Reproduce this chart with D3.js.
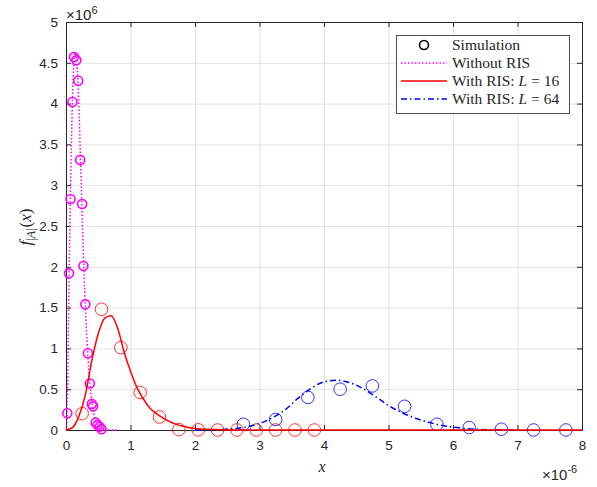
<!DOCTYPE html>
<html>
<head>
<meta charset="utf-8">
<script src="https://cdn.jsdelivr.net/npm/d3@7"></script>
<style>
  body { margin: 0; background: #fff; }
  text { fill: #262626; }
</style>
</head>
<body>
<svg id="chart"></svg>
<script>
// x values in units of 1e-6, y values in units of 1e6

// Simulation markers
const simNoRisX = [0.02, 0.047, 0.07, 0.10, 0.124, 0.16, 0.19, 0.22, 0.25, 0.27, 0.30, 0.34, 0.37, 0.40, 0.42, 0.46, 0.49, 0.52, 0.55];
const simNoRisY = [0.205, 1.92, 2.83, 4.02, 4.57, 4.53, 4.28, 3.31, 2.77, 2.01, 1.54, 0.94, 0.57, 0.32, 0.29, 0.09, 0.06, 0.04, 0.01];

const simL16X = [0.25, 0.55, 0.85, 1.15, 1.45, 1.75, 2.05, 2.35, 2.65, 2.95, 3.25, 3.55, 3.85];
const simL16Y = [0.20, 1.48, 1.01, 0.46, 0.16, 0.005, 0.002, 0, 0, 0, 0, 0, 0];

const simL64X = [2.75, 3.25, 3.75, 4.25, 4.75, 5.25, 5.75, 6.25, 6.75, 7.25, 7.75];
const simL64Y = [0.07, 0.13, 0.40, 0.50, 0.54, 0.29, 0.07, 0.03, 0.01, 0, 0];

// Analytical curves
const noRisX = [0, 0.01, 0.02, 0.035, 0.047, 0.06, 0.07, 0.085, 0.10, 0.115, 0.13, 0.145, 0.16, 0.175, 0.19, 0.205, 0.22, 0.235, 0.25, 0.27, 0.29, 0.31, 0.34, 0.37, 0.40, 0.43, 0.46, 0.50, 0.55, 0.60, 0.70, 0.80];
const noRisY = [0, 0.05, 0.3, 1.1, 1.9, 2.5, 2.95, 3.55, 4.05, 4.4, 4.58, 4.62, 4.55, 4.42, 4.2, 3.85, 3.45, 3.05, 2.65, 2.15, 1.7, 1.35, 0.9, 0.57, 0.35, 0.2, 0.11, 0.05, 0.015, 0.005, 0, 0];

const l16X = [0, 0.1, 0.2, 0.3, 0.4, 0.5, 0.6, 0.7, 0.8, 0.9, 1.0, 1.1, 1.2, 1.3, 1.4, 1.5, 1.6, 1.7, 1.8, 1.9, 2.0, 2.1, 2.3, 2.6, 3, 4, 5, 6, 7, 8];
const l16Y = [0, 0.03, 0.17, 0.43, 0.85, 1.18, 1.37, 1.40, 1.25, 0.96, 0.72, 0.52, 0.38, 0.27, 0.20, 0.15, 0.105, 0.072, 0.048, 0.03, 0.019, 0.012, 0.005, 0.001, 0, 0, 0, 0, 0, 0];

const l64X = [2.0, 2.2, 2.4, 2.6, 2.8, 3.0, 3.2, 3.4, 3.6, 3.8, 4.0, 4.2, 4.4, 4.6, 4.8, 5.0, 5.2, 5.4, 5.6, 5.8, 6.0, 6.2, 6.4, 6.6, 6.8, 7.0];
const l64Y = [0, 0.002, 0.006, 0.017, 0.04, 0.08, 0.15, 0.25, 0.39, 0.51, 0.59, 0.61, 0.58, 0.51, 0.41, 0.30, 0.215, 0.15, 0.10, 0.06, 0.035, 0.018, 0.008, 0.003, 0.001, 0];

const xTicks = [0, 1, 2, 3, 4, 5, 6, 7, 8];
const yTicks = [0, 0.5, 1, 1.5, 2, 2.5, 3, 3.5, 4, 4.5, 5];

const legendLabels = ['Simulation', 'Without RIS', 'With RIS: ', 'With RIS: '];

const width = 597, height = 487;
const plot = { left: 66, right: 582, top: 22, bottom: 430 };

const svg = d3.select('#chart')
    .attr('width', width)
    .attr('height', height)
    .style('font-family', 'Liberation Sans, Arial, Helvetica, sans-serif');

const x = d3.scaleLinear().domain([0, 8]).range([plot.left, plot.right]);
const y = d3.scaleLinear().domain([0, 5]).range([plot.bottom, plot.top]);

const axisColor = '#262626';

// Grid
const grid = svg.append('g').attr('class', 'grid');
grid.selectAll('line.gx')
    .data(xTicks)
    .join('line')
    .attr('class', 'gx')
    .attr('x1', d => x(d) + 0.5).attr('x2', d => x(d) + 0.5)
    .attr('y1', plot.top).attr('y2', plot.bottom)
    .attr('stroke', '#e3e3e3').attr('stroke-width', 1);
grid.selectAll('line.gy')
    .data(yTicks)
    .join('line')
    .attr('class', 'gy')
    .attr('x1', plot.left).attr('x2', plot.right)
    .attr('y1', d => y(d) + 0.5).attr('y2', d => y(d) + 0.5)
    .attr('stroke', '#e3e3e3').attr('stroke-width', 1);

// Axes (ticks inward on all sides)
const fmt = d => String(d);
const xAxisB = d3.axisBottom(x).tickValues(xTicks).tickFormat(fmt).tickSizeInner(-5).tickSizeOuter(0).tickPadding(10);
const xAxisT = d3.axisTop(x).tickValues(xTicks).tickFormat('').tickSizeInner(-5).tickSizeOuter(0);
const yAxisL = d3.axisLeft(y).tickValues(yTicks).tickFormat(fmt).tickSizeInner(-5).tickSizeOuter(0).tickPadding(8);
const yAxisR = d3.axisRight(y).tickValues(yTicks).tickFormat('').tickSizeInner(-5).tickSizeOuter(0);

function styleAxis(g) {
    g.selectAll('path').attr('stroke', axisColor).attr('stroke-width', 1);
    g.selectAll('line').attr('stroke', axisColor).attr('stroke-width', 1);
    g.selectAll('text').attr('fill', axisColor).style('font-size', '13.5px')
        .style('font-family', 'Liberation Sans, Arial, Helvetica, sans-serif');
}

svg.append('g').attr('transform', `translate(0,${plot.bottom})`).call(xAxisB).call(styleAxis);
svg.append('g').attr('transform', `translate(0,${plot.top})`).call(xAxisT).call(styleAxis);
svg.append('g').attr('transform', `translate(${plot.left},0)`).call(yAxisL).call(styleAxis);
svg.append('g').attr('transform', `translate(${plot.right},0)`).call(yAxisR).call(styleAxis);

// Markers
const pts = svg.append('g').attr('class', 'markers');
function drawMarkers(xs, ys, color, r, sw) {
    pts.append('g').selectAll('circle')
        .data(xs.map((d, i) => [d, ys[i]]))
        .join('circle')
        .attr('cx', d => x(d[0]))
        .attr('cy', d => y(d[1]))
        .attr('r', r)
        .attr('fill', 'none')
        .attr('stroke', color)
        .attr('stroke-width', sw);
}
drawMarkers(simNoRisX, simNoRisY, '#ff00ff', 4.5, 1.6);
drawMarkers(simL16X, simL16Y, '#ff0000', 6.3, 0.8);
drawMarkers(simL64X, simL64Y, '#0000ff', 6.3, 0.8);

// Curves
const line = d3.line()
    .x(d => x(d[0]))
    .y(d => y(d[1]))
    .curve(d3.curveMonotoneX);

const curves = svg.append('g').attr('class', 'curves');
curves.append('path')
    .datum(noRisX.map((d, i) => [d, noRisY[i]]))
    .attr('d', line)
    .attr('fill', 'none')
    .attr('stroke', '#ff00ff')
    .attr('stroke-width', 1.5)
    .attr('stroke-dasharray', '1.5,2');
curves.append('path')
    .datum(l64X.map((d, i) => [d, l64Y[i]]))
    .attr('d', line)
    .attr('fill', 'none')
    .attr('stroke', '#0000ff')
    .attr('stroke-width', 1.5)
    .attr('stroke-dasharray', '6,3,1.5,3');
curves.append('path')
    .datum(l16X.map((d, i) => [d, l16Y[i]]))
    .attr('d', line)
    .attr('fill', 'none')
    .attr('stroke', '#ff0000')
    .attr('stroke-width', 1.5);

// Exponent labels
const serif = 'Liberation Serif, Times New Roman, serif';
const topExp = svg.append('text')
    .attr('x', 66).attr('y', 20)
    .style('font-size', '15px');
topExp.append('tspan').text('\u00d710');
topExp.append('tspan').attr('dy', -6).style('font-size', '11px').text('6');

const botExp = svg.append('text')
    .attr('x', 542).attr('y', 480)
    .style('font-size', '15px');
botExp.append('tspan').text('\u00d710');
botExp.append('tspan').attr('dy', -7).style('font-size', '11px').text('-6');

// Axis labels
svg.append('text')
    .attr('x', (plot.left + plot.right) / 2 - 2)
    .attr('y', 472)
    .attr('text-anchor', 'middle')
    .style('font-family', serif)
    .style('font-style', 'italic')
    .style('font-size', '16px')
    .text('x');

const yLab = svg.append('text')
    .attr('transform', 'translate(31,227) rotate(-90)')
    .attr('text-anchor', 'middle')
    .style('font-family', serif)
    .style('font-size', '17px');
yLab.append('tspan').style('font-style', 'italic').text('f');
yLab.append('tspan').attr('dy', 4).style('font-size', '12px').text('|');
yLab.append('tspan').style('font-size', '12px').style('font-style', 'italic').text('A');
yLab.append('tspan').style('font-size', '12px').text('|');
yLab.append('tspan').attr('dy', -4).attr('dx', 1).text('(');
yLab.append('tspan').style('font-style', 'italic').text('x');
yLab.append('tspan').text(')');

// Legend
const legend = svg.append('g').attr('class', 'legend');
legend.append('rect')
    .attr('x', 396.5).attr('y', 35.5)
    .attr('width', 173).attr('height', 78)
    .attr('fill', '#fff')
    .attr('stroke', axisColor)
    .attr('stroke-width', 0.8);

const legendY = [45, 63, 81, 99];
const lx1 = 401, lx2 = 447, ltx = 452;

legend.append('circle')
    .attr('cx', (lx1 + lx2) / 2).attr('cy', legendY[0])
    .attr('r', 4.5).attr('fill', 'none')
    .attr('stroke', '#000').attr('stroke-width', 1.6);
legend.append('line')
    .attr('x1', lx1).attr('x2', lx2).attr('y1', legendY[1]).attr('y2', legendY[1])
    .attr('stroke', '#ff00ff').attr('stroke-width', 1.5).attr('stroke-dasharray', '1.5,2');
legend.append('line')
    .attr('x1', lx1).attr('x2', lx2).attr('y1', legendY[2]).attr('y2', legendY[2])
    .attr('stroke', '#ff0000').attr('stroke-width', 1.5);
legend.append('line')
    .attr('x1', lx1).attr('x2', lx2).attr('y1', legendY[3]).attr('y2', legendY[3])
    .attr('stroke', '#0000ff').attr('stroke-width', 1.5).attr('stroke-dasharray', '6,3,1.5,3');

const legendL = ['16', '64'];
legendLabels.forEach((lab, i) => {
    const t = legend.append('text')
        .attr('x', ltx).attr('y', legendY[i] + 5)
        .style('font-family', serif)
        .style('font-size', '15.5px')
        .attr('fill', '#000');
    t.append('tspan').text(lab);
    if (i >= 2) {
        t.append('tspan').style('font-style', 'italic').text('L');
        t.append('tspan').text(' = ' + legendL[i - 2]);
    }
});
</script>
</body>
</html>
